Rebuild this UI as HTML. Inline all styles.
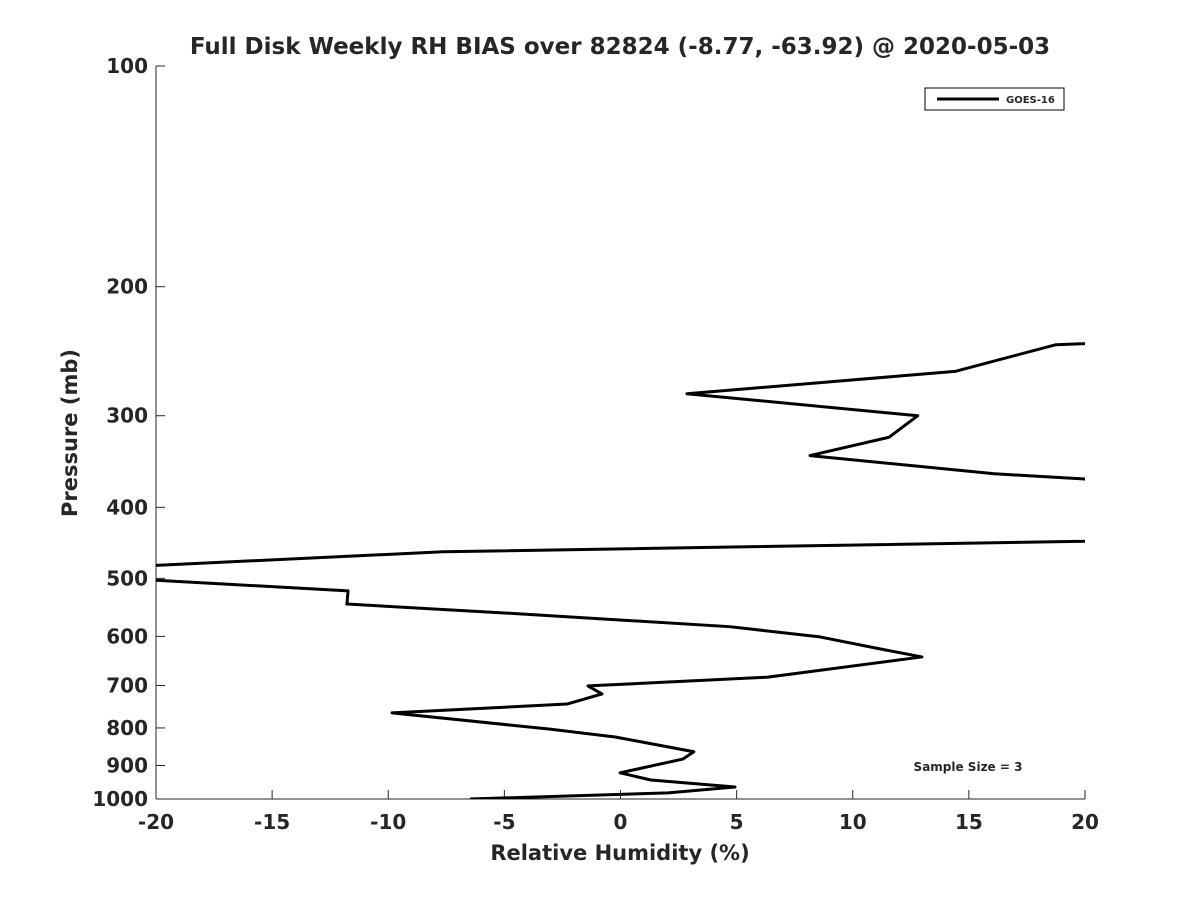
<!DOCTYPE html>
<html><head><meta charset="utf-8"><style>
body{margin:0;background:#fff;}
text{font-family:"DejaVu Sans","Liberation Sans",sans-serif;font-weight:bold;fill:#262626;}
</style></head><body>
<svg id="chart" width="1200" height="900">
<defs><clipPath id="clip"><rect x="156" y="66" width="929" height="733"/></clipPath></defs>
<text x="620" y="54" text-anchor="middle" font-size="23">Full Disk Weekly RH BIAS over 82824 (-8.77, -63.92) @ 2020-05-03</text>
<g id="axes"></g>
<polyline id="series" clip-path="url(#clip)" fill="none" stroke="#000" stroke-width="3" stroke-linejoin="round"/>
<g>
<rect x="925" y="88" width="139" height="22" fill="#fff" stroke="#000" stroke-width="1"/>
<line x1="937" y1="99" x2="999" y2="99" stroke="#000" stroke-width="3"/>
<text x="1006" y="103" font-size="10">GOES-16</text>
</g>
<text x="968" y="771" text-anchor="middle" font-size="12">Sample Size = 3</text>
<text x="620" y="860" text-anchor="middle" font-size="21">Relative Humidity (%)</text>
<text transform="translate(77,433) rotate(-90)" text-anchor="middle" font-size="21">Pressure (mb)</text>
</svg>
<script>
const xTicks=[-20,-15,-10,-5,0,5,10,15,20];
const yTicks=[100,200,300,400,500,600,700,800,900,1000];
const rhBias=[25,18.75,14.4,2.86,12.8,11.56,8.16,16.1,20,25,20,-7.64,-20,-25,-20,-11.73,-11.78,-4.33,4.71,8.59,11.17,12.98,6.35,-1.4,-0.8,-2.3,-9.84,-3.04,-0.23,3.16,2.69,-0.02,1.31,4.93,2.05,-6.48];
const pressure=[236,240,261,280,300,321,340,360,366,400,445,460,480,490,503,520,542,559,582,601,624,640,682,701,719,742,763,803,823,862,882,921,942,963,981,1000];
const X=v=>156+(v+20)/40*929;
const Y=p=>66+Math.log10(p/100)*733;
const ns='http://www.w3.org/2000/svg';
const g=document.getElementById('axes');
function mk(t,a){const e=document.createElementNS(ns,t);for(const k in a)e.setAttribute(k,a[k]);g.appendChild(e);return e;}
let l=mk('line',{x1:156,y1:66,x2:156,y2:799,stroke:'#262626','stroke-width':1});


l=mk('line',{x1:156,y1:799,x2:1085,y2:799,stroke:'#262626','stroke-width':1});


xTicks.forEach(v=>{
 const t=mk('line',{x1:X(v),y1:799,x2:X(v),y2:790,stroke:'#262626'});
 
 
 const s=mk('text',{x:X(v),y:829,'text-anchor':'middle','font-size':20});s.textContent=v;
 
 
});
yTicks.forEach(v=>{
 const t=mk('line',{x1:156,y1:Y(v),x2:165,y2:Y(v),stroke:'#262626'});
 
 
 const s=mk('text',{x:148,y:Y(v)+7,'text-anchor':'end','font-size':20});s.textContent=v;
 
 
});
document.getElementById('series').setAttribute('points',rhBias.map((v,i)=>X(v)+','+Y(pressure[i])).join(' '));
</script>
</body></html>
